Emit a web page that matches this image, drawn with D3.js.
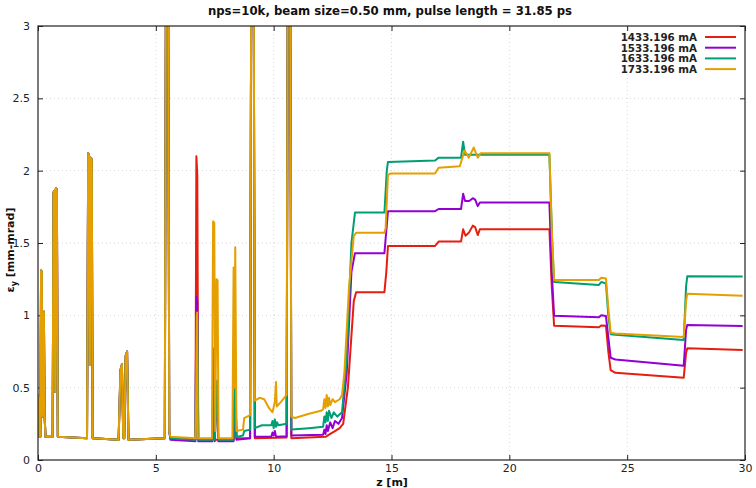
<!DOCTYPE html>
<html>
<head>
<meta charset="utf-8">
<script src="https://cdn.jsdelivr.net/npm/d3@7"></script>
<style>
  body { margin: 0; background: #fff; }
  text { font-family: "DejaVu Sans", Verdana, sans-serif; }
</style>
</head>
<body>
<script>
// emittance vs z, four beam currents
var seriesNames = ["1433.196 mA", "1533.196 mA", "1633.196 mA", "1733.196 mA"];
var seriesColors = ["#e51e10", "#9400d3", "#009e73", "#e69f00"];
var xTicks = [0, 5, 10, 15, 20, 25, 30];
var yTicks = [0, 0.5, 1, 1.5, 2, 2.5, 3];

// injector part, same for all currents: [z, eps]
var commonStart = [
  [0, 0.45], [0.03, 0.42], [0.06, 0.16], [0.1, 0.16], [0.13, 1.31], [0.16, 1.3], [0.19, 0.3],
  [0.22, 1.03], [0.25, 1.02], [0.28, 0.3], [0.32, 0.16], [0.62, 0.16], [0.66, 1.85], [0.7, 1.86],
  [0.73, 0.47], [0.76, 1.88], [0.8, 1.87], [0.84, 0.16], [2.08, 0.15], [2.13, 2.12], [2.17, 2.1],
  [2.2, 0.66], [2.24, 2.09], [2.28, 2.08], [2.32, 0.15], [3.42, 0.14], [3.5, 0.62], [3.56, 0.66],
  [3.62, 0.15], [3.66, 0.15], [3.72, 0.72], [3.78, 0.75], [3.84, 0.14], [5.38, 0.15], [5.43, 3.5],
  [5.52, 3.5], [5.57, 0.2]
];

var red = [
  [5.62, 0.15], [6.68, 0.145], [6.72, 2.1], [6.76, 1.97], [6.8, 0.14], [7.4, 0.14], [7.45, 0.6],
  [7.5, 0.14], [8.3, 0.14], [8.37, 0.5], [8.42, 0.15], [9.0, 0.15], [9.05, 3.5], [9.15, 3.5],
  [9.2, 0.15], [10.55, 0.155], [10.6, 3.5], [10.7, 3.5], [10.75, 0.15], [12.2, 0.16], [12.4, 0.18],
  [12.6, 0.2], [12.8, 0.22], [12.95, 0.25], [13.15, 0.5], [13.4, 1.1], [13.5, 1.16], [14.7, 1.16],
  [14.78, 1.3], [14.85, 1.48], [16.85, 1.48], [17.0, 1.51], [17.95, 1.51], [18.04, 1.595],
  [18.14, 1.55], [18.28, 1.57], [18.45, 1.62], [18.55, 1.61], [18.66, 1.555], [18.75, 1.595],
  [21.7, 1.595], [21.8, 1.2], [21.9, 0.928], [23.8, 0.917], [23.9, 0.93], [24.1, 0.928],
  [24.2, 0.75], [24.3, 0.622], [24.5, 0.603], [27.4, 0.569], [27.5, 0.74], [27.55, 0.772],
  [29.9, 0.76]
];

var purple = [
  [5.62, 0.14], [6.68, 0.13], [6.72, 1.13], [6.76, 1.1], [6.8, 0.13], [7.4, 0.13], [7.45, 0.7],
  [7.5, 0.13], [7.6, 0.5], [7.65, 0.13], [8.3, 0.13], [8.37, 0.6], [8.42, 0.14], [9.0, 0.15],
  [9.05, 3.5], [9.15, 3.5], [9.2, 0.16], [9.9, 0.16], [9.95, 0.19], [10.0, 0.17], [10.05, 0.2],
  [10.1, 0.16], [10.55, 0.165], [10.6, 3.5], [10.7, 3.5], [10.75, 0.17], [12.1, 0.175],
  [12.15, 0.21], [12.2, 0.18], [12.25, 0.24], [12.3, 0.2], [12.4, 0.26], [12.5, 0.22],
  [12.6, 0.27], [12.75, 0.25], [12.9, 0.29], [13.1, 0.6], [13.3, 1.3], [13.45, 1.43], [14.7, 1.43],
  [14.85, 1.72], [16.85, 1.72], [17.0, 1.735], [17.95, 1.735], [18.04, 1.84], [18.12, 1.79],
  [18.3, 1.79], [18.45, 1.81], [18.55, 1.8], [18.66, 1.755], [18.75, 1.78], [21.7, 1.78],
  [21.8, 1.3], [21.9, 0.997], [23.8, 0.986], [23.9, 1.0], [24.1, 0.995], [24.2, 0.85],
  [24.3, 0.707], [24.5, 0.695], [27.4, 0.652], [27.5, 0.9], [27.55, 0.933], [29.9, 0.926]
];

var green = [
  [5.62, 0.15], [6.68, 0.14], [6.72, 1.0], [6.76, 0.98], [6.8, 0.14], [7.4, 0.14], [7.45, 0.77],
  [7.5, 0.14], [7.6, 0.55], [7.65, 0.14], [8.3, 0.14], [8.37, 0.7], [8.42, 0.16], [8.7, 0.17],
  [8.75, 0.2], [9.0, 0.21], [9.05, 3.5], [9.15, 3.5], [9.2, 0.22], [9.5, 0.24], [9.9, 0.24],
  [9.95, 0.27], [10.0, 0.22], [10.05, 0.28], [10.1, 0.23], [10.15, 0.26], [10.2, 0.24],
  [10.55, 0.25], [10.6, 3.5], [10.7, 3.5], [10.75, 0.21], [11.5, 0.22], [12.1, 0.23],
  [12.15, 0.3], [12.2, 0.26], [12.25, 0.33], [12.3, 0.27], [12.35, 0.34], [12.45, 0.29],
  [12.55, 0.33], [12.7, 0.3], [12.9, 0.33], [13.1, 0.7], [13.3, 1.5], [13.45, 1.71], [14.7, 1.71],
  [14.8, 2.0], [14.85, 2.06], [16.85, 2.07], [17.0, 2.09], [17.95, 2.09], [18.04, 2.2],
  [18.12, 2.11], [21.7, 2.11], [21.82, 1.5], [21.9, 1.23], [23.8, 1.21], [23.9, 1.23],
  [24.1, 1.22], [24.2, 1.0], [24.3, 0.87], [24.5, 0.865], [27.4, 0.83], [27.5, 1.2],
  [27.55, 1.27], [29.9, 1.268]
];

var orange = [
  [5.62, 0.16], [6.68, 0.15], [6.72, 0.5], [6.75, 1.02], [6.78, 0.15], [7.38, 0.15], [7.43, 1.65],
  [7.48, 1.64], [7.52, 0.2], [7.58, 1.25], [7.62, 1.24], [7.66, 0.15], [8.25, 0.15], [8.3, 1.33],
  [8.33, 0.5], [8.37, 1.47], [8.42, 0.2], [8.7, 0.21], [8.75, 0.29], [9.0, 0.31], [9.05, 3.5],
  [9.15, 3.5], [9.2, 0.41], [9.4, 0.43], [9.6, 0.42], [9.8, 0.36], [9.95, 0.33], [10.05, 0.4],
  [10.1, 0.54], [10.13, 0.37], [10.3, 0.4], [10.55, 0.45], [10.6, 3.5], [10.7, 3.5], [10.75, 0.3],
  [10.9, 0.29], [11.5, 0.32], [12.0, 0.34], [12.1, 0.35], [12.15, 0.42], [12.2, 0.36],
  [12.25, 0.45], [12.3, 0.37], [12.35, 0.43], [12.4, 0.38], [12.5, 0.42], [12.6, 0.4],
  [12.8, 0.42], [12.9, 0.45], [13.0, 0.6], [13.2, 1.2], [13.4, 1.55], [13.5, 1.57], [14.7, 1.57],
  [14.75, 1.6], [14.85, 1.97], [14.95, 1.98], [16.85, 1.98], [17.0, 2.02], [17.9, 2.03],
  [18.1, 2.14], [18.28, 2.09], [18.49, 2.16], [18.66, 2.09], [18.78, 2.12], [21.7, 2.12],
  [21.8, 1.6], [21.9, 1.244], [23.8, 1.244], [23.9, 1.26], [24.1, 1.255], [24.2, 1.05],
  [24.3, 0.88], [24.5, 0.875], [27.4, 0.85], [27.5, 1.1], [27.55, 1.15], [29.9, 1.135]
];

var allSeries = [red, purple, green, orange].map(function (s) { return commonStart.concat(s); });

var W = 756, H = 488;
var pL = 38, pR = 745, pT = 26, pB = 460;  // plot box

var svg = d3.select("body").append("svg")
  .attr("width", W).attr("height", H);

var x = d3.scaleLinear().domain([0, 30]).range([pL, pR]);
var y = d3.scaleLinear().domain([0, 3]).range([pB, pT]);

// dotted grid
svg.append("g").selectAll("line").data(xTicks.slice(1, -1)).enter().append("line")
  .attr("x1", function (d) { return x(d); }).attr("x2", function (d) { return x(d); })
  .attr("y1", pT).attr("y2", pB)
  .attr("stroke", "#d8d8d8").attr("stroke-width", 1).attr("stroke-dasharray", "1,3");
svg.append("g").selectAll("line").data(yTicks.slice(1, -1)).enter().append("line")
  .attr("x1", pL).attr("x2", pR)
  .attr("y1", function (d) { return y(d); }).attr("y2", function (d) { return y(d); })
  .attr("stroke", "#d8d8d8").attr("stroke-width", 1).attr("stroke-dasharray", "1,3");

// axes, ticks inward and mirrored
var fmt = function (d) { return d3.format("~g")(d); };
var gx = svg.append("g").attr("transform", "translate(0," + pB + ")")
  .call(d3.axisBottom(x).tickValues(xTicks).tickSize(-5).tickPadding(4).tickFormat(fmt));
var gx2 = svg.append("g").attr("transform", "translate(0," + pT + ")")
  .call(d3.axisTop(x).tickValues(xTicks).tickSize(-5).tickFormat(""));
var gy = svg.append("g").attr("transform", "translate(" + pL + ",0)")
  .call(d3.axisLeft(y).tickValues(yTicks).tickSize(-5).tickPadding(8).tickFormat(fmt));
var gy2 = svg.append("g").attr("transform", "translate(" + pR + ",0)")
  .call(d3.axisRight(y).tickValues(yTicks).tickSize(-5).tickFormat(""));
[gx, gx2, gy, gy2].forEach(function (g) {
  g.select(".domain").remove();
  g.selectAll("line").attr("stroke", "#222");
  g.selectAll("text").attr("font-size", 11).attr("fill", "#222")
    .style("font-family", "DejaVu Sans, Verdana, sans-serif");
});

// clip
svg.append("clipPath").attr("id", "plotclip").append("rect")
  .attr("x", pL).attr("y", pT).attr("width", pR - pL).attr("height", pB - pT);

var line = d3.line().x(function (d) { return x(d[0]); }).y(function (d) { return y(d[1]); });

svg.append("g").attr("clip-path", "url(#plotclip)")
  .selectAll("path").data(allSeries).enter().append("path")
  .attr("d", line)
  .attr("fill", "none")
  .attr("stroke", function (d, i) { return seriesColors[i]; })
  .attr("stroke-width", 2)
  .attr("stroke-linejoin", "round");

// border box
svg.append("rect").attr("x", pL).attr("y", pT)
  .attr("width", pR - pL).attr("height", pB - pT)
  .attr("fill", "none").attr("stroke", "#222").attr("stroke-width", 1.2);

// legend
var legend = svg.append("g").selectAll("g").data(seriesNames).enter().append("g")
  .attr("transform", function (d, i) { return "translate(0," + (37 + i * 10.7) + ")"; });
legend.append("text")
  .attr("x", 697).attr("y", 4)
  .attr("text-anchor", "end")
  .attr("font-size", 10.3).attr("font-weight", "bold").attr("fill", "#222")
  .text(function (d) { return d; });
legend.append("line")
  .attr("x1", 705).attr("x2", 736).attr("y1", 0).attr("y2", 0)
  .attr("stroke", function (d, i) { return seriesColors[i]; })
  .attr("stroke-width", 2);

// titles
svg.append("text").attr("x", 390).attr("y", 15)
  .attr("text-anchor", "middle").attr("font-size", 11.7).attr("font-weight", "bold")
  .attr("fill", "#111")
  .text("nps=10k, beam size=0.50 mm, pulse length = 31.85 ps");

svg.append("text").attr("x", 392).attr("y", 486)
  .attr("text-anchor", "middle").attr("font-size", 11).attr("font-weight", "bold")
  .attr("fill", "#111")
  .text("z [m]");

var ylab = svg.append("text")
  .attr("transform", "translate(14,250) rotate(-90)")
  .attr("text-anchor", "middle").attr("font-size", 11).attr("font-weight", "bold")
  .attr("fill", "#111");
ylab.append("tspan").text("ε");
ylab.append("tspan").attr("font-size", 8).attr("dy", 3).text("y");
ylab.append("tspan").attr("dy", -3).text(" [mm-mrad]");
</script>
</body>
</html>
